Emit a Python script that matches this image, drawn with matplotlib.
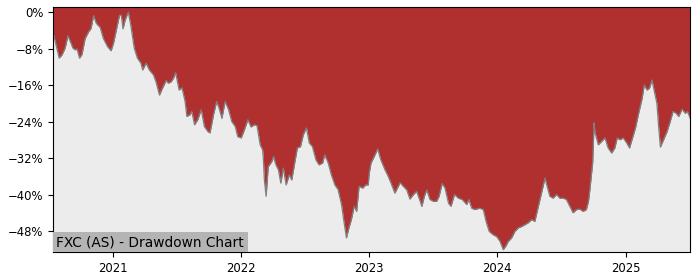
import numpy as np
import pandas as pd
import matplotlib
matplotlib.use("Agg")
import matplotlib.pyplot as plt
import matplotlib.dates as mdates
from matplotlib.ticker import MultipleLocator, FuncFormatter

# drawdown (%)
dates = [
    "2020-07-14", "2020-07-22", "2020-07-31", "2020-08-08", "2020-08-17", "2020-08-25",
    "2020-09-01", "2020-09-08", "2020-09-15", "2020-09-20", "2020-09-27", "2020-10-04",
    "2020-10-13", "2020-10-23", "2020-10-30", "2020-11-06", "2020-11-14", "2020-11-25",
    "2020-12-04", "2020-12-16", "2020-12-26", "2021-01-02", "2021-01-12", "2021-01-19",
    "2021-01-24", "2021-01-29", "2021-02-04", "2021-02-13", "2021-02-20", "2021-03-02",
    "2021-03-11", "2021-03-21", "2021-03-26", "2021-04-05", "2021-04-14", "2021-04-26",
    "2021-05-03", "2021-05-13", "2021-05-19", "2021-06-01", "2021-06-07", "2021-06-15",
    "2021-06-22", "2021-06-28", "2021-07-08", "2021-07-16", "2021-07-25", "2021-07-30",
    "2021-08-08", "2021-08-13", "2021-08-21", "2021-08-30", "2021-09-09", "2021-09-18",
    "2021-09-28", "2021-10-04", "2021-10-14", "2021-10-23", "2021-10-30", "2021-11-07",
    "2021-11-16", "2021-11-26", "2021-12-05", "2021-12-15", "2021-12-22", "2022-01-01",
    "2022-01-10", "2022-01-20", "2022-01-29", "2022-02-08", "2022-02-15", "2022-02-24",
    "2022-03-03", "2022-03-05", "2022-03-08", "2022-03-13", "2022-03-19", "2022-03-29",
    "2022-04-03", "2022-04-10", "2022-04-17", "2022-04-24", "2022-05-01", "2022-05-09",
    "2022-05-18", "2022-05-25", "2022-06-03", "2022-06-10", "2022-06-19", "2022-06-27",
    "2022-07-06", "2022-07-14", "2022-07-23", "2022-08-02", "2022-08-11", "2022-08-21",
    "2022-08-27", "2022-09-06", "2022-09-15", "2022-09-25", "2022-10-04", "2022-10-14",
    "2022-10-20", "2022-10-28", "2022-11-04", "2022-11-11", "2022-11-19", "2022-11-26",
    "2022-12-03", "2022-12-13", "2022-12-22", "2022-12-29", "2023-01-01", "2023-01-06",
    "2023-01-15", "2023-01-25", "2023-02-03", "2023-02-15", "2023-02-24", "2023-03-04",
    "2023-03-15", "2023-03-30", "2023-04-08", "2023-04-18", "2023-04-27", "2023-05-07",
    "2023-05-16", "2023-05-23", "2023-05-31", "2023-06-07", "2023-06-14", "2023-06-23",
    "2023-07-03", "2023-07-12", "2023-07-19", "2023-07-28", "2023-08-05", "2023-08-15",
    "2023-08-22", "2023-09-01", "2023-09-12", "2023-09-23", "2023-10-06", "2023-10-12",
    "2023-10-20", "2023-10-29", "2023-11-12", "2023-11-22", "2023-11-30", "2023-12-09",
    "2023-12-20", "2023-12-30", "2024-01-09", "2024-01-18", "2024-01-26", "2024-02-01",
    "2024-02-11", "2024-02-20", "2024-03-01", "2024-03-11", "2024-03-20", "2024-03-29",
    "2024-04-08", "2024-04-17", "2024-04-27", "2024-05-06", "2024-05-16", "2024-05-22",
    "2024-05-30", "2024-06-08", "2024-06-18", "2024-06-27", "2024-07-07", "2024-07-16",
    "2024-07-26", "2024-08-04", "2024-08-14", "2024-08-23", "2024-09-02", "2024-09-11",
    "2024-09-17", "2024-09-21", "2024-09-29", "2024-10-03", "2024-10-05", "2024-10-15",
    "2024-10-24", "2024-11-03", "2024-11-12", "2024-11-22", "2024-12-01", "2024-12-08",
    "2024-12-16", "2024-12-25", "2025-01-04", "2025-01-12", "2025-01-19", "2025-01-29",
    "2025-02-07", "2025-02-17", "2025-02-23", "2025-03-03", "2025-03-10", "2025-03-17",
    "2025-03-23", "2025-03-31", "2025-04-05", "2025-04-10", "2025-04-19", "2025-04-29",
    "2025-05-08", "2025-05-16", "2025-05-25", "2025-06-01", "2025-06-11", "2025-06-20",
    "2025-06-26", "2025-07-04",
]
drawdown = [
    -4.6, -7.2, -10.1, -9.4, -7.9, -5.2,
    -6.5, -7.9, -8.3, -8.1, -10.1, -9.3,
    -5.8, -4.3, -3.6, -0.8, -2.5, -3.4,
    -5.8, -7.6, -8.5, -6.8, -3.2, -0.7,
    -0.7, -3.7, -1.8, 0.0, -2.8, -7.9,
    -10.1, -11.2, -12.7, -11.2, -12.7, -13.8,
    -15.3, -18.2, -17.1, -15.0, -15.6, -15.3,
    -14.5, -13.3, -17.1, -16.6, -19.6, -22.9,
    -22.5, -21.8, -24.7, -23.6, -21.4, -25.1,
    -26.2, -26.5, -22.5, -19.6, -21.1, -23.3,
    -19.6, -21.4, -24.0, -25.1, -27.3, -27.6,
    -25.8, -23.6, -25.2, -24.7, -24.9, -29.1,
    -30.2, -32.0, -36.8, -40.4, -33.9, -32.8,
    -31.7, -33.5, -34.6, -37.5, -34.2, -37.9,
    -35.7, -36.8, -32.8, -29.8, -29.5, -26.9,
    -25.4, -28.7, -29.5, -32.4, -33.5, -33.1,
    -31.3, -33.1, -35.7, -37.9, -38.9, -42.2,
    -45.5, -49.5, -47.3, -45.5, -42.6, -43.7,
    -38.2, -38.6, -37.9, -37.9, -35.3, -33.1,
    -31.7, -30.0, -32.4, -34.6, -36.0, -37.5,
    -39.7, -37.4, -38.2, -39.0, -41.0, -40.0,
    -39.3, -40.8, -42.6, -40.4, -39.0, -41.1,
    -41.5, -41.5, -40.4, -37.6, -38.6, -41.9,
    -42.6, -40.0, -40.8, -41.1, -42.2, -41.1,
    -43.0, -43.3, -43.0, -43.3, -45.9, -48.1,
    -48.8, -49.2, -50.3, -52.1, -51.2, -50.3,
    -49.5, -48.1, -47.3, -47.0, -46.6, -46.2,
    -45.5, -45.9, -42.6, -39.7, -36.4, -38.2,
    -40.4, -40.8, -40.0, -40.8, -40.8, -41.1,
    -42.6, -44.0, -43.3, -43.2, -43.7, -43.3,
    -41.5, -38.9, -33.0, -24.3, -26.2, -29.1,
    -28.4, -27.6, -29.8, -30.9, -29.8, -27.6,
    -28.0, -27.6, -28.7, -29.8, -28.0, -25.4,
    -22.2, -18.9, -16.0, -17.1, -16.7, -14.9,
    -17.1, -20.0, -25.1, -29.6, -28.0, -26.2,
    -24.0, -21.8, -22.2, -22.9, -21.3, -22.2,
    -21.8, -23.3,
]
title = "FXC (AS) - Drawdown Chart"

x = pd.to_datetime(dates)
y = np.array(drawdown)
y_lo, y_hi = -52.6, 1.1

fig = plt.figure(figsize=(7, 2.8), dpi=100)
ax = fig.add_axes([0.076, 0.1, 0.91, 0.875])
ax.set_facecolor("#ececec")

# red area runs from the curve up to the top of the frame
ax.fill_between(x, y, y_hi + 5, color="#b03030", linewidth=0)
ax.plot(x, y, color="#808080", linewidth=0.9)

ax.set_xlim(x[0], x[-1])
ax.set_ylim(y_lo, y_hi)
ax.xaxis.set_major_locator(mdates.YearLocator())
ax.xaxis.set_major_formatter(mdates.DateFormatter("%Y"))
ax.yaxis.set_major_locator(MultipleLocator(8))
ax.yaxis.set_major_formatter(FuncFormatter(lambda v, p: f"{v:.0f}%".replace("-", "\u2212")))
ax.tick_params(labelsize=8.4)

ax.text(0.005, 0.012, title, transform=ax.transAxes, fontsize=9.9,
        ha="left", va="bottom",
        bbox=dict(facecolor="#b4b4b4", edgecolor="none", pad=2.5))

fig.savefig("out.png", dpi=100)
